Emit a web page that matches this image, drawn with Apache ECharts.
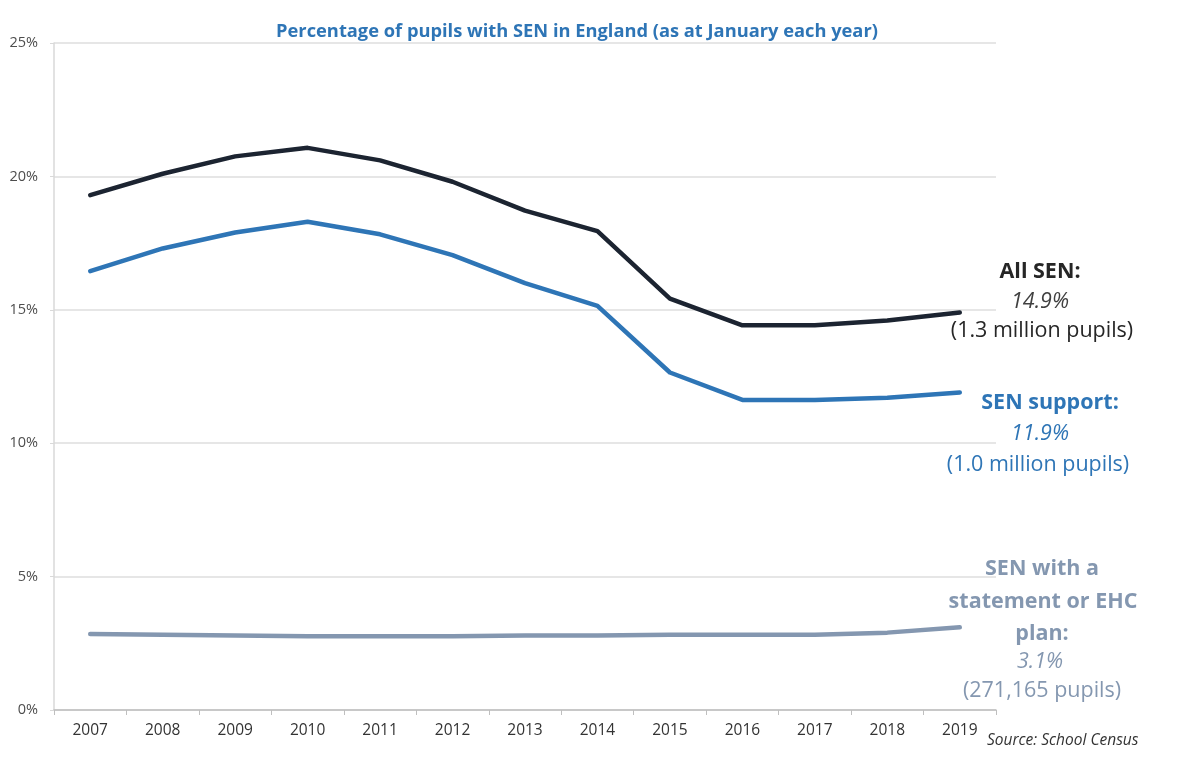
<!DOCTYPE html>
<html>
<head>
<meta charset="utf-8">
<script src="https://cdn.jsdelivr.net/npm/echarts@6/dist/echarts.min.js"></script>
<style>
html,body{margin:0;padding:0;background:#fff;}
#chart{width:1200px;height:779px;}
</style>
</head>
<body>
<div id="chart"></div>
<script>
const years = ['2007','2008','2009','2010','2011','2012','2013','2014','2015','2016','2017','2018','2019'];
const allSen = [19.3, 20.1, 20.75, 21.07, 20.6, 19.8, 18.72, 17.95, 15.42, 14.42, 14.42, 14.6, 14.9];
const senSupport = [16.45, 17.3, 17.9, 18.3, 17.83, 17.05, 16.0, 15.15, 12.65, 11.62, 11.62, 11.7, 11.9];
const senStatement = [2.85, 2.82, 2.79, 2.76, 2.76, 2.76, 2.79, 2.79, 2.82, 2.82, 2.82, 2.9, 3.1];
const yTicks = [0, 5, 10, 15, 20, 25];

const FONT = '"Open Sans", Lato, sans-serif';
const C_ALL = '#1c2431';
const C_SUP = '#2e75b6';
const C_STA = '#8497b0';
const FS = '21.5px ';

const chart = echarts.init(document.getElementById('chart'));

function txt(x, y, text, color, opts) {
  return {
    type: 'text', x: x, y: y,
    style: Object.assign({
      text: text, fill: color, font: FS + FONT,
      textAlign: 'center', textVerticalAlign: 'middle'
    }, opts || {})
  };
}

chart.setOption({
  animation: false,
  backgroundColor: '#ffffff',
  title: {
    text: 'Percentage of pupils with SEN in England (as at January each year)',
    left: 572, top: 18, textAlign: 'center',
    textStyle: { color: C_SUP, fontFamily: FONT, fontWeight: 'bold', fontSize: 18.3 }
  },
  grid: { left: 54, right: 204, top: 43, bottom: 69, containLabel: false },
  xAxis: {
    type: 'category',
    data: years,
    boundaryGap: true,
    axisLine: { lineStyle: { color: '#bfbfbf', width: 1.5 } },
    axisTick: { show: true, length: 5, lineStyle: { color: '#bfbfbf' } },
    axisLabel: { color: '#333333', fontFamily: FONT, fontSize: 15.5, margin: 13 }
  },
  yAxis: {
    type: 'value',
    min: yTicks[0], max: yTicks[yTicks.length - 1], interval: 5,
    axisLine: { show: true, lineStyle: { color: '#d9d9d9', width: 1.5 } },
    axisTick: { show: true, length: 4, lineStyle: { color: '#d9d9d9' } },
    splitLine: { lineStyle: { color: '#dedede', width: 1.5 } },
    axisLabel: { color: '#4d4d4d', fontFamily: FONT, fontSize: 14.5, margin: 16,
      formatter: v => v + '%' }
  },
  series: [
    { name: 'All SEN', type: 'line', data: allSen, symbol: 'none',
      lineStyle: { color: C_ALL, width: 4.5, join: 'round', cap: 'round' } },
    { name: 'SEN support', type: 'line', data: senSupport, symbol: 'none',
      lineStyle: { color: C_SUP, width: 4.5, join: 'round', cap: 'round' } },
    { name: 'SEN with a statement or EHC plan', type: 'line', data: senStatement, symbol: 'none',
      lineStyle: { color: C_STA, width: 4.5, join: 'round', cap: 'round' } }
  ],
  graphic: [
    txt(1040, 272, 'All SEN:', '#262626', { font: 'bold ' + FS + FONT }),
    txt(1040, 302, '14.9%', '#404040', { font: 'italic ' + FS + FONT }),
    txt(1042, 331, '(1.3 million pupils)', '#262626'),
    txt(1050, 403, 'SEN support:', C_SUP, { font: 'bold ' + FS + FONT }),
    txt(1040, 434, '11.9%', C_SUP, { font: 'italic ' + FS + FONT }),
    txt(1038, 465, '(1.0 million pupils)', C_SUP),
    txt(1042, 569, 'SEN with a', C_STA, { font: 'bold ' + FS + FONT }),
    txt(1043, 602, 'statement or EHC', C_STA, { font: 'bold ' + FS + FONT }),
    txt(1042, 634, 'plan:', C_STA, { font: 'bold ' + FS + FONT }),
    txt(1040, 662, '3.1%', C_STA, { font: 'italic ' + FS + FONT }),
    txt(1042, 691, '(271,165 pupils)', C_STA),
    txt(987, 741, 'Source: School Census', '#333333', { font: 'italic 15.5px ' + FONT, textAlign: 'left' })
  ]
});
</script>
</body>
</html>
